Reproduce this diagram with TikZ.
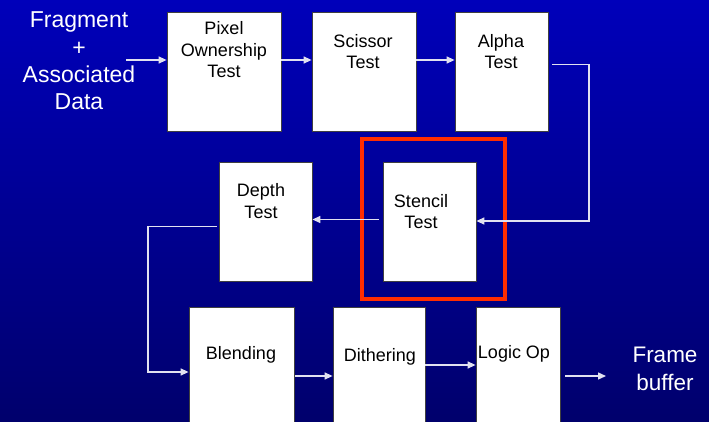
\documentclass[tikz,border=0pt]{standalone}
\usepackage{fontspec}
\setmainfont{Liberation Sans}
\usetikzlibrary{arrows.meta}
\definecolor{bgtop}{RGB}{0,0,186}
\definecolor{bgbot}{RGB}{0,0,108}
\definecolor{wire}{RGB}{225,225,240}
\definecolor{hilite}{RGB}{255,45,0}
\tikzset{
  stagebox/.style={draw=black!75, line width=0.8pt, fill=white, minimum width=#1, minimum height=119pt, inner sep=0pt, anchor=center},
  boxtext/.style={font=\fontsize{18pt}{21.5pt}\selectfont, align=center, text=black, inner sep=0pt},
  bigtext/.style={font=\fontsize{23pt}{27.3pt}\selectfont, align=center, text=white, inner sep=0pt},
  wireline/.style={draw=wire, line width=1.4pt},
  arr/.style={wireline, -{Triangle[length=8pt,width=7pt]}},
}
\begin{document}
\begin{tikzpicture}[x=1pt,y=-1pt]
\shade[top color=bgtop, bottom color=bgbot] (0,0) rectangle (709,422);
\useasboundingbox (0,0) rectangle (709,422);

% top row
\node[stagebox=114pt] (pix) at (224,71.5) {};
\node[stagebox=104pt] (sci) at (364,71.5) {};
\node[stagebox=93pt] (alp) at (501.5,71.5) {};
% middle row
\node[stagebox=93pt] (dep) at (265.5,221.5) {};
\node[stagebox=93pt] (ste) at (429.5,221.5) {};
\node[draw=hilite, line width=4pt, minimum width=143pt, minimum height=160pt, inner sep=0pt] (red) at (433.5,219) {};
% bottom row
\node[stagebox=105pt, minimum height=125pt] (ble) at (241.5,369.5) {};
\node[stagebox=92pt, minimum height=125pt] (dit) at (379,369.5) {};
\node[stagebox=84pt, minimum height=125pt] (log) at (518,369.5) {};

% texts
\node[bigtext] (frag) at (79,61) {Fragment\\+\\Associated\\Data};
\node[boxtext] (tpix) at (224,50) {Pixel\\Ownership\\Test};
\node[boxtext] (tsci) at (363,51.5) {Scissor\\Test};
\node[boxtext] (talp) at (501,51.5) {Alpha\\Test};
\node[boxtext] (tdep) at (261,201) {Depth\\Test};
\node[boxtext] (tste) at (421,211.5) {Stencil\\Test};
\node[boxtext] (tble) at (241,355) {Blending};
\node[boxtext] (tdit) at (380,357) {Dithering};
\node[boxtext] (tlog) at (514,354) {Logic Op};
\node[bigtext, font=\fontsize{22.5pt}{28pt}\selectfont] (fb) at (665,369) {Frame\\buffer};

% connector points
\coordinate (fragout) at (126,60);
\coordinate (alpout) at (552,64.5);
\coordinate (turnA) at (589,64.5);
\coordinate (steout) at (379,219.5);
\coordinate (depout) at (217,226.5);
\coordinate (turnD) at (148,226.5);
\coordinate (bleout) at (295,376);
\coordinate (ditout) at (425,365);
\coordinate (logout) at (565,376);
\coordinate (fbin) at (606,376);

% connectors
\draw[arr] (fragout) -- (fragout -| pix.west);
\draw[arr] (pix.east |- fragout) -- (sci.west |- fragout);
\draw[arr] (sci.east |- fragout) -- (alp.west |- fragout);
\draw[arr] (alpout) -- (turnA) |- (ste.east |- 0,221);
\draw[arr] (steout) -- (steout -| dep.east);
\draw[arr] (depout) -- (turnD) |- (ble.west |- 0,372);
\draw[arr] (bleout) -- (dit.west |- bleout);
\draw[arr] (ditout) -- (log.west |- ditout);
\draw[arr] (logout) -- (fbin);
\end{tikzpicture}
\end{document}
